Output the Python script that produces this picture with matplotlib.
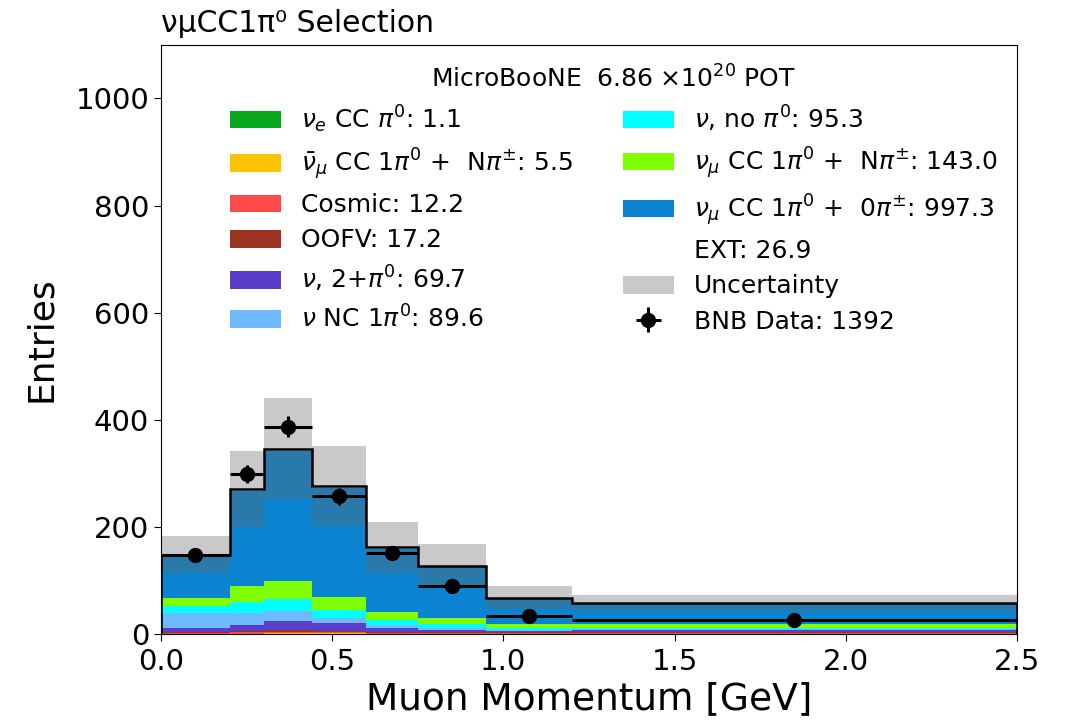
import numpy as np
import matplotlib
matplotlib.use("Agg")
import matplotlib.pyplot as plt

# Muon momentum binning [GeV]
bin_edges = [0.0, 0.2, 0.3, 0.44, 0.6, 0.75, 0.95, 1.2, 2.5]

# Predicted event counts per bin, one array per category (bottom of stack first)
nue_cc_pi0 = [0.1, 0.2, 0.2, 0.2, 0.1, 0.1, 0.1, 0.1]
numubar_cc_pi0_npi = [0.5, 0.8, 1.0, 1.0, 0.7, 0.6, 0.5, 0.4]
cosmic = [1.5, 2.0, 2.2, 1.8, 1.2, 1.3, 1.0, 1.2]
oofv = [1.5, 2.8, 4.0, 2.8, 1.6, 1.6, 1.4, 1.5]
nu_multi_pi0 = [8.0, 11.0, 17.0, 14.0, 7.5, 4.0, 3.5, 4.7]
nu_nc_pi0 = [28.0, 22.0, 19.0, 9.5, 5.5, 3.0, 1.5, 1.1]
nu_no_pi0 = [12.5, 20.5, 22.0, 15.5, 10.0, 8.0, 3.8, 3.0]
numu_cc_pi0_npi = [15.5, 31.0, 33.0, 25.0, 15.0, 11.0, 6.3, 6.2]
numu_cc_pi0_0pi = [77.5, 177.0, 243.0, 202.0, 117.0, 95.0, 47.8, 38.0]
ext = [3.0, 4.0, 5.0, 5.0, 3.2, 3.0, 2.0, 1.7]

# Total uncertainty on the prediction per bin
pred_unc = [35, 71, 94, 75, 47, 41, 22, 15]

# Observed BNB data counts per bin
bnb_data = [148, 299, 387, 257, 152, 89, 34, 26]

category_names = [
    r"$\nu_e$ CC $\pi^0$",
    r"$\bar{\nu}_\mu$ CC 1$\pi^0$ +  N$\pi^{\pm}$",
    "Cosmic",
    "OOFV",
    r"$\nu$, 2+$\pi^0$",
    r"$\nu$ NC 1$\pi^0$",
    r"$\nu$, no $\pi^0$",
    r"$\nu_\mu$ CC 1$\pi^0$ +  N$\pi^{\pm}$",
    r"$\nu_\mu$ CC 1$\pi^0$ +  0$\pi^{\pm}$",
    "EXT",
]
category_colors = [
    "#07a81c", "#fbc300", "#ff4a4a", "#9b3320", "#5a3dc8",
    "#6fbaff", "#00ffff", "#80ff00", "#0a84d0", "#ffffff",
]

components = [nue_cc_pi0, numubar_cc_pi0_npi, cosmic, oofv, nu_multi_pi0,
              nu_nc_pi0, nu_no_pi0, numu_cc_pi0_npi, numu_cc_pi0_0pi, ext]

edges = np.array(bin_edges)
centers = 0.5 * (edges[:-1] + edges[1:])
half_widths = 0.5 * (edges[1:] - edges[:-1])
total = np.sum(np.array(components), axis=0)
unc = np.array(pred_unc, dtype=float)
data = np.array(bnb_data, dtype=float)

fig = plt.figure(figsize=(10.67, 7.23), dpi=100)
ax = fig.add_axes([0.151, 0.123, 0.802, 0.815])

labels = [f"{n}: {np.sum(c):.1f}" for n, c in zip(category_names, components)]
_, _, patches = ax.hist([centers] * len(components), bins=edges,
                        weights=components, stacked=True,
                        histtype="stepfilled", color=category_colors,
                        label=labels)

# Uncertainty band around the total prediction
unc_band = ax.stairs(total + unc, edges, baseline=total - unc, fill=True,
                     color=(0.40, 0.40, 0.40), alpha=0.35, lw=0,
                     label="Uncertainty")

# Outline of the total prediction
ax.stairs(total, edges, color="black", lw=1.8)

data_handle = ax.errorbar(centers, data, xerr=half_widths, yerr=np.sqrt(data),
                          fmt="o", color="black", ms=10, elinewidth=2.2,
                          capsize=0, label=f"BNB Data: {int(data.sum())}")

ax.set_xlim(0, 2.5)
ax.set_ylim(0, 1100)
ax.set_xticks([0.0, 0.5, 1.0, 1.5, 2.0, 2.5])
ax.set_yticks([0, 200, 400, 600, 800, 1000])
ax.tick_params(labelsize=21, length=5)
ax.tick_params(axis="x", pad=5)
ax.set_xlabel("Muon Momentum [GeV]", fontsize=27)
ax.set_ylabel("Entries", fontsize=26, labelpad=13)
ax.set_title("νμCC1π⁰ Selection", loc="left", fontsize=21.5, pad=9)

handles = [p[0] if isinstance(p, (list, tuple)) else p for p in patches]
handles = list(handles) + [unc_band, data_handle]
legend_labels = labels + ["Uncertainty", f"BNB Data: {int(data.sum())}"]
ax.legend(handles, legend_labels, ncol=2, frameon=False, fontsize=18,
          title=r"MicroBooNE  6.86 $\times$10$^{20}$ POT", title_fontsize=18,
          loc="upper right", bbox_to_anchor=(1.004, 1.004),
          handlelength=2.05, handleheight=0.72, handletextpad=0.8,
          columnspacing=2.0, labelspacing=0.45)

fig.savefig("out.png", dpi=100)
